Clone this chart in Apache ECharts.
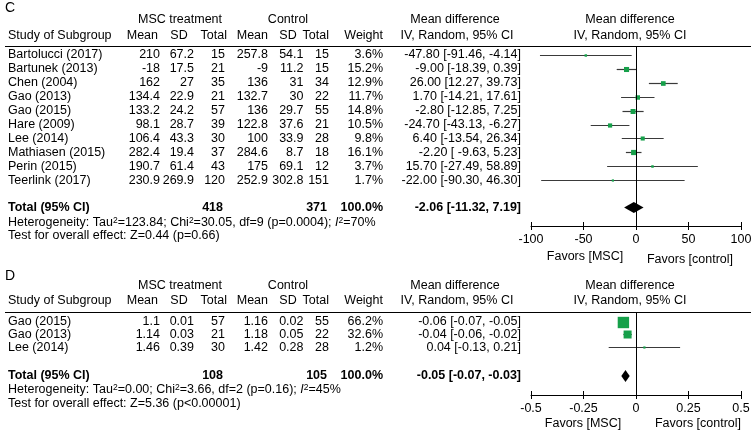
<!DOCTYPE html>
<html><head><meta charset="utf-8">
<script src="https://cdn.jsdelivr.net/npm/echarts@6/dist/echarts.min.js"></script>
<style>html,body{margin:0;padding:0;background:#fff}#c{width:756px;height:436px}</style>
</head><body><div id="c"></div>
<script>
// ---------- Panel C data ----------
const studiesC = ['Bartolucci (2017)','Bartunek (2013)','Chen (2004)','Gao (2013)','Gao (2015)','Hare (2009)','Lee (2014)','Mathiasen (2015)','Perin (2015)','Teerlink (2017)'];
const mscMeanC = [210,-18,162,134.4,133.2,98.1,106.4,282.4,190.7,230.9];
const mscSDC   = [67.2,17.5,27,22.9,24.2,28.7,43.3,19.4,61.4,269.9];
const mscNC    = [15,21,35,21,57,39,30,37,43,120];
const ctlMeanC = [257.8,-9,136,132.7,136,122.8,100,284.6,175,252.9];
const ctlSDC   = [54.1,11.2,31,30,29.7,37.6,33.9,8.7,69.1,302.8];
const ctlNC    = [15,15,34,22,55,21,28,18,12,151];
const weightC  = [3.6,15.2,12.9,11.7,14.8,10.5,9.8,16.1,3.7,1.7];
const mdC      = [-47.80,-9.00,26.00,1.70,-2.80,-24.70,6.40,-2.20,15.70,-22.00];
const loC      = [-91.46,-18.39,12.27,-14.21,-12.85,-43.13,-13.54,-9.63,-27.49,-90.30];
const hiC      = [-4.14,0.39,39.73,17.61,7.25,-6.27,26.34,5.23,58.89,46.30];
const mdLabelC = ['-47.80 [-91.46, -4.14]','-9.00 [-18.39, 0.39]','26.00 [12.27, 39.73]','1.70 [-14.21, 17.61]','-2.80 [-12.85, 7.25]','-24.70 [-43.13, -6.27]','6.40 [-13.54, 26.34]','-2.20 [ -9.63, 5.23]','15.70 [-27.49, 58.89]','-22.00 [-90.30, 46.30]'];
const totalNC  = [418, 371];
const totalMDC = [-2.06, -11.32, 7.19];
const totalLabelC = '-2.06 [-11.32, 7.19]';
const hetC  = 'Heterogeneity: Tau{s|2}=123.84; Chi{s|2}=30.05, df=9 (p=0.0004); {i|I}{s|2}=70%';
const testC = 'Test for overall effect: Z=0.44 (p=0.66)';
const ticksC = [-100,-50,0,50,100];

// ---------- Panel D data ----------
const studiesD = ['Gao (2015)','Gao (2013)','Lee (2014)'];
const mscMeanD = [1.1,1.14,1.46];
const mscSDD   = [0.01,0.03,0.39];
const mscND    = [57,21,30];
const ctlMeanD = [1.16,1.18,1.42];
const ctlSDD   = [0.02,0.05,0.28];
const ctlND    = [55,22,28];
const weightD  = [66.2,32.6,1.2];
const mdD      = [-0.06,-0.04,0.04];
const loD      = [-0.07,-0.06,-0.13];
const hiD      = [-0.05,-0.02,0.21];
const mdLabelD = ['-0.06 [-0.07, -0.05]','-0.04 [-0.06, -0.02]','0.04 [-0.13, 0.21]'];
const totalND  = [108, 105];
const totalMDD = [-0.05, -0.07, -0.03];
const totalLabelD = '-0.05 [-0.07, -0.03]';
const hetD  = 'Heterogeneity: Tau{s|2}=0.00; Chi{s|2}=3.66, df=2 (p=0.16); {i|I}{s|2}=45%';
const testD = 'Test for overall effect: Z=5.36 (p<0.00001)';
const ticksD = [-0.5,-0.25,0,0.25,0.5];

// ---------- layout ----------
const FF = '"Liberation Sans", Arial, sans-serif';
const FS = 12.5;
const F12 = FS + 'px ' + FF, B12 = 'bold ' + FS + 'px ' + FF;
const GREEN = '#16a04a';
const plotL = 531, plotR = 741;
const P = {
  C: {title:8, h1:19.5, h2:35.5, line:46, row0:55, step:13.9, total:207.5, het:222.5, test:236, axis:226, fav1:257, fav2:259.5, favX1:585, favX2:690, k:1.3},
  D: {title:276, h1:286, h2:300.5, line:312, row0:321.5, step:12.8, total:376, het:390, test:404, axis:395, fav1:423.5, fav2:423.5, favX1:583, favX2:698, k:1.4}
};
const cols = {name:8, mM:160, mS:194, mN:225, cM:268, cS:303.5, cN:329, w:383, md:521};

const els = [];
function txt(t, x, y, align, font, extra) {
  els.push(Object.assign({type:'text', silent:true, style:{text:t, x:x, y:y, textAlign:align, textVerticalAlign:'middle', font:font||F12, fill:'#000'}}, extra||{}));
}
function hline(y) {
  els.push({type:'line', silent:true, shape:{x1:5, y1:y+0.5, x2:751, y2:y+0.5}, style:{stroke:'#000', lineWidth:1}});
}
const rich = {s:{fontSize:8.5, fontFamily:FF, verticalAlign:'top', lineHeight:8}, i:{fontStyle:'italic', fontSize:FS, fontFamily:FF}};

function panel(L, label, studies, mM, mS, mN, cM, cS, cN, w, mdLab, totN, totLab, het, test) {
  txt(label, 5, L.title, 'left', '14px ' + FF);
  txt('MSC treatment', 180, L.h1, 'center');
  txt('Control', 288, L.h1, 'center');
  txt('Mean difference', 455, L.h1, 'center');
  txt('Mean difference', 630, L.h1, 'center');
  txt('Study of Subgroup', cols.name, L.h2, 'left');
  txt('Mean', 158, L.h2, 'right');
  txt('SD', 179, L.h2, 'center');
  txt('Total', 227, L.h2, 'right');
  txt('Mean', 268, L.h2, 'right');
  txt('SD', 288, L.h2, 'center');
  txt('Total', 329, L.h2, 'right');
  txt('Weight', 383, L.h2, 'right');
  txt('IV, Random, 95% CI', 457, L.h2, 'center');
  txt('IV, Random, 95% CI', 630, L.h2, 'center');
  hline(L.line);
  studies.forEach((s, i) => {
    const y = L.row0 + i * L.step;
    txt(s, cols.name, y, 'left');
    txt(String(mM[i]), cols.mM, y, 'right');
    txt(String(mS[i]), cols.mS, y, 'right');
    txt(String(mN[i]), cols.mN, y, 'right');
    txt(String(cM[i]), cols.cM, y, 'right');
    txt(String(cS[i]), cols.cS, y, 'right');
    txt(String(cN[i]), cols.cN, y, 'right');
    txt(w[i].toFixed(1) + '%', cols.w, y, 'right');
    txt(mdLab[i], cols.md, y, 'right');
  });
  txt('Total (95% CI)', cols.name, L.total, 'left', B12);
  txt(String(totN[0]), 223, L.total, 'right', B12);
  txt(String(totN[1]), 327, L.total, 'right', B12);
  txt('100.0%', cols.w, L.total, 'right', B12);
  txt(totLab, cols.md, L.total, 'right', B12);
  els.push({type:'text', silent:true, style:{text:het, x:cols.name, y:L.het, textAlign:'left', textVerticalAlign:'middle', font:F12, fill:'#000', rich:rich}});
  txt(test, cols.name, L.test, 'left');
  txt('Favors [MSC]', L.favX1, L.fav1, 'center');
  txt('Favors [control]', L.favX2, L.fav2, 'center');
}
panel(P.C, 'C', studiesC, mscMeanC, mscSDC, mscNC, ctlMeanC, ctlSDC, ctlNC, weightC, mdLabelC, totalNC, totalLabelC, hetC, testC);
panel(P.D, 'D', studiesD, mscMeanD, mscSDD, mscND, ctlMeanD, ctlSDD, ctlND, weightD, mdLabelD, totalND, totalLabelD, hetD, testD);

function yRange(L) {
  const min = -(L.row0 - L.line) / L.step;
  return {min: min, max: min + (L.axis - L.line) / L.step, total: (L.total - L.row0) / L.step};
}
const yrC = yRange(P.C), yrD = yRange(P.D);

function studyRender(k) {
  return function (params, api) {
    const md = api.value(0), row = api.value(1), lo = api.value(2), hi = api.value(3), w = api.value(4);
    const c = api.coord([md, row]), a = api.coord([lo, row]), b = api.coord([hi, row]);
    const s = Math.max(2.2, k * Math.sqrt(w));
    const yy = Math.round(c[1]) + 0.5;
    return {type:'group', children:[
      {type:'line', shape:{x1:a[0], y1:yy, x2:b[0], y2:yy}, style:{stroke:'#3a3a3a', lineWidth:1.2}},
      {type:'rect', shape:{x:c[0]-s/2, y:yy-s/2, width:s, height:s}, style:{fill:GREEN}}
    ]};
  };
}
function diamondRender(h) {
  return function (params, api) {
    const md = api.value(0), row = api.value(1), lo = api.value(2), hi = api.value(3);
    const c = api.coord([md, row]), a = api.coord([lo, row]), b = api.coord([hi, row]);
    return {type:'polygon', shape:{points:[[a[0], c[1]], [c[0], c[1]-h], [b[0], c[1]], [c[0], c[1]+h]]}, style:{fill:'#000'}};
  };
}
function xAxes(grid, ticks) {
  const base = {gridIndex:grid, type:'value', position:'bottom', min:ticks[0], max:ticks[ticks.length-1], interval:ticks[1]-ticks[0], splitLine:{show:false}};
  return [
    Object.assign({}, base, {axisLine:{onZero:false, lineStyle:{color:'#000', width:1}}, axisTick:{length:4, lineStyle:{color:'#000'}},
      axisLabel:{color:'#000', fontSize:FS, fontFamily:FF, margin:7}}),
    Object.assign({}, base, {axisLine:{show:false, onZero:false}, axisTick:{inside:true, length:4, lineStyle:{color:'#000'}}, axisLabel:{show:false}})
  ];
}
const zeroLine = {silent:true, symbol:'none', label:{show:false}, lineStyle:{color:'#000', width:1, type:'solid'}, data:[{xAxis:0}], animation:false};

const option = {
  animation:false,
  backgroundColor:'#fff',
  grid:[
    {left:plotL, right:756-plotR, top:P.C.line, bottom:436-P.C.axis},
    {left:plotL, right:756-plotR, top:P.D.line, bottom:436-P.D.axis}
  ],
  xAxis: xAxes(0, ticksC).concat(xAxes(1, ticksD)),
  yAxis:[
    {gridIndex:0, type:'value', inverse:true, min:yrC.min, max:yrC.max, show:false},
    {gridIndex:1, type:'value', inverse:true, min:yrD.min, max:yrD.max, show:false}
  ],
  series:[
    {type:'custom', xAxisIndex:0, yAxisIndex:0, renderItem:studyRender(P.C.k), encode:{x:[0,2,3], y:1},
      data: mdC.map((m, i) => [m, i, loC[i], hiC[i], weightC[i]]), markLine:zeroLine, clip:false},
    {type:'custom', xAxisIndex:0, yAxisIndex:0, renderItem:diamondRender(5.5), encode:{x:[0,2,3], y:1},
      data:[[totalMDC[0], yrC.total, totalMDC[1], totalMDC[2]]], clip:false},
    {type:'custom', xAxisIndex:2, yAxisIndex:1, renderItem:studyRender(P.D.k), encode:{x:[0,2,3], y:1},
      data: mdD.map((m, i) => [m, i, loD[i], hiD[i], weightD[i]]), markLine:zeroLine, clip:false},
    {type:'custom', xAxisIndex:2, yAxisIndex:1, renderItem:diamondRender(6), encode:{x:[0,2,3], y:1},
      data:[[totalMDD[0], yrD.total, totalMDD[1], totalMDD[2]]], clip:false}
  ],
  graphic:{elements:els}
};
const chart = echarts.init(document.getElementById('c'), null, {renderer:'canvas'});
chart.setOption(option);
</script></body></html>
